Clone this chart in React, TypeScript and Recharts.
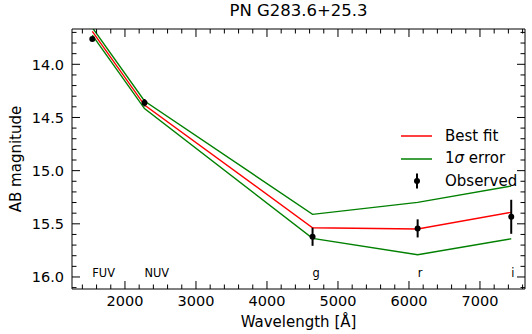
import React from 'react';
import { ComposedChart, Line, Scatter, XAxis, YAxis, ErrorBar, Legend } from 'recharts';

const TITLE = 'PN G283.6+25.3';
const BANDS = ['FUV', 'NUV', 'g', 'r', 'i'];
const WAVELENGTH = [1540, 2275, 4642, 6122, 7440];
const OBSERVED = [13.762, 14.361, 15.622, 15.543, 15.434];
const OBSERVED_ERR = [0.02, 0.035, 0.085, 0.085, 0.16];
const BEST_FIT = [13.69, 14.383, 15.537, 15.549, 15.392];
const FIT_UPPER = [13.655, 14.345, 15.411, 15.298, 15.145];
const FIT_LOWER = [13.725, 14.416, 15.637, 15.791, 15.641];
const BAND_LABEL_MAG = 16.0;

const X_MAJOR = [2000, 3000, 4000, 5000, 6000, 7000];
const Y_MAJOR = [14.0, 14.5, 15.0, 15.5, 16.0];
const X_DOMAIN = [1254, 7634];
const Y_DOMAIN = [13.668, 16.113];

// minor + major tick positions (every 200 Å, every 0.1 mag)
const X_TICKS: number[] = [];
for (let v = 1400; v <= 7600; v += 200) X_TICKS.push(v);
const Y_TICKS: number[] = [];
for (let k = 137; k <= 161; k++) Y_TICKS.push(k / 10);

const rows = WAVELENGTH.map((wl, i) => ({
  wl,
  obs: OBSERVED[i],
  err: OBSERVED_ERR[i],
  best: BEST_FIT[i],
  upper: FIT_UPPER[i],
  lower: FIT_LOWER[i],
}));
const labelRows = WAVELENGTH.map((wl, i) => ({ wl, lab: BAND_LABEL_MAG, band: BANDS[i] }));

const FONT = '"DejaVu Sans", sans-serif';
const MAJOR_LEN = 8;
const MINOR_LEN = 4.5;
const TICK_FS = 14.5;

const isMajorX = (v: number) => X_MAJOR.includes(v);
const isMajorY = (v: number) => Y_MAJOR.some((m) => Math.abs(m - v) < 1e-6);

function BottomTick({ x, y, payload }: any) {
  const major = isMajorX(payload.value);
  return (
    <g>
      <line x1={x} y1={y} x2={x} y2={y - (major ? MAJOR_LEN : MINOR_LEN)} stroke="#000" />
      {major && (
        <text x={x} y={y + 17} textAnchor="middle" fontSize={TICK_FS} fontFamily={FONT} fill="#000">
          {payload.value}
        </text>
      )}
    </g>
  );
}

function TopTick({ x, y, payload }: any) {
  const major = isMajorX(payload.value);
  return <line x1={x} y1={y} x2={x} y2={y + (major ? MAJOR_LEN : MINOR_LEN)} stroke="#000" />;
}

function LeftTick({ x, y, payload }: any) {
  const major = isMajorY(payload.value);
  return (
    <g>
      <line x1={x} y1={y} x2={x + (major ? MAJOR_LEN : MINOR_LEN)} y2={y} stroke="#000" />
      {major && (
        <text x={x - 8} y={y} dy="0.36em" textAnchor="end" fontSize={TICK_FS} fontFamily={FONT} fill="#000">
          {payload.value.toFixed(1)}
        </text>
      )}
    </g>
  );
}

function RightTick({ x, y, payload }: any) {
  const major = isMajorY(payload.value);
  return <line x1={x} y1={y} x2={x - (major ? MAJOR_LEN : MINOR_LEN)} y2={y} stroke="#000" />;
}

const renderBandLabel = (props: any) => (
  <text x={props.cx} y={props.cy} textAnchor="start" fontSize={11.4} fontFamily={FONT} fill="#000" stroke="none">
    {props.payload.band}
  </text>
);

const renderObsDot = (props: any) => <circle cx={props.cx} cy={props.cy} r={3} fill="#000" />;

function LegendBox() {
  const row: React.CSSProperties = { display: 'flex', alignItems: 'center', height: 22.5 };
  return (
    <div style={{ fontFamily: FONT, fontSize: 15, color: '#000', lineHeight: 1 }}>
      <div style={row}>
        <svg width={44} height={22}>
          <line x1={0} x2={31} y1={11} y2={11} stroke="#ff0000" strokeWidth={1.5} />
        </svg>
        <span>Best fit</span>
      </div>
      <div style={row}>
        <svg width={44} height={22}>
          <line x1={0} x2={31} y1={11} y2={11} stroke="#008000" strokeWidth={1.5} />
        </svg>
        <span>
          1<i>σ</i> error
        </span>
      </div>
      <div style={row}>
        <svg width={44} height={22}>
          <line x1={16} x2={16} y1={3.5} y2={18.5} stroke="#000" strokeWidth={2} />
          <circle cx={16} cy={11} r={3} fill="#000" />
        </svg>
        <span>Observed</span>
      </div>
    </div>
  );
}

export default function App() {
  return (
    <div style={{ position: 'absolute', left: 0, top: 0, width: 532, height: 334, background: '#fff' }}>
      <ComposedChart width={532} height={334} data={rows} margin={{ top: 0, right: 0, bottom: 0, left: 0 }}>
        <XAxis
          dataKey="wl"
          type="number"
          domain={X_DOMAIN}
          allowDataOverflow
          ticks={X_TICKS}
          interval={0}
          tickSize={0}
          tickMargin={0}
          tickLine={false}
          tick={<BottomTick />}
          height={45}
          axisLine={{ stroke: '#000' }}
          label={{ value: 'Wavelength [Å]', position: 'insideBottom', offset: 7, fontSize: 15, fontFamily: FONT, fill: '#000' }}
        />
        <XAxis
          xAxisId="top"
          orientation="top"
          dataKey="wl"
          type="number"
          domain={X_DOMAIN}
          allowDataOverflow
          ticks={X_TICKS}
          interval={0}
          tickSize={0}
          tickMargin={0}
          tickLine={false}
          tick={<TopTick />}
          height={29}
          axisLine={{ stroke: '#000' }}
          label={{ value: TITLE, position: 'insideTop', offset: 4, fontSize: 16.5, fontFamily: FONT, fill: '#000' }}
        />
        <YAxis
          type="number"
          domain={Y_DOMAIN}
          reversed
          allowDataOverflow
          ticks={Y_TICKS}
          interval={0}
          tickSize={0}
          tickMargin={0}
          tickLine={false}
          tick={<LeftTick />}
          width={72}
          axisLine={{ stroke: '#000' }}
          label={{
            value: 'AB magnitude',
            angle: -90,
            position: 'insideLeft',
            offset: 16,
            style: { textAnchor: 'middle' },
            fontSize: 15,
            fontFamily: FONT,
            fill: '#000',
          }}
        />
        <YAxis
          yAxisId="right"
          orientation="right"
          type="number"
          domain={Y_DOMAIN}
          reversed
          allowDataOverflow
          ticks={Y_TICKS}
          interval={0}
          tickSize={0}
          tickMargin={0}
          tickLine={false}
          tick={<RightTick />}
          width={7}
          axisLine={{ stroke: '#000' }}
        />
        <Legend
          layout="vertical"
          align="center"
          verticalAlign="middle"
          content={<LegendBox />}
          wrapperStyle={{ left: 401, top: 125, width: 130 }}
        />
        <Line type="linear" dataKey="upper" stroke="#008000" strokeWidth={1.4} dot={false} isAnimationActive={false} />
        <Line type="linear" dataKey="lower" stroke="#008000" strokeWidth={1.4} dot={false} isAnimationActive={false} />
        <Line type="linear" dataKey="best" stroke="#ff0000" strokeWidth={1.4} dot={false} isAnimationActive={false} />
        <Scatter data={labelRows} dataKey="lab" fill="#000" shape={renderBandLabel} isAnimationActive={false} />
        <Scatter dataKey="obs" fill="#000" shape={renderObsDot} isAnimationActive={false}>
          <ErrorBar dataKey="err" direction="y" width={0} stroke="#000" strokeWidth={2} />
        </Scatter>
      </ComposedChart>
    </div>
  );
}
